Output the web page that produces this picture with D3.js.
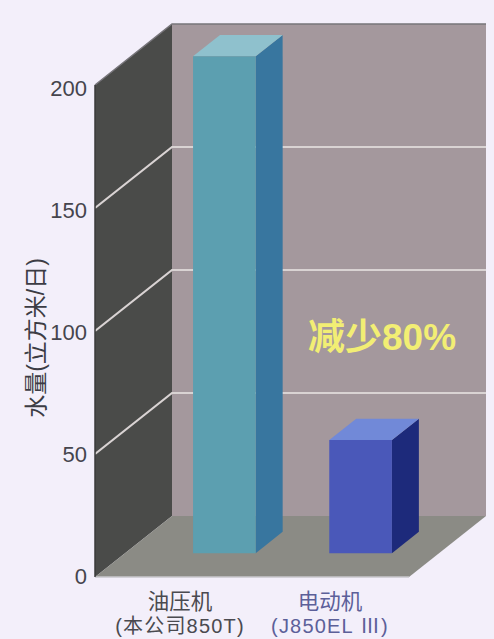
<!DOCTYPE html>
<html>
<head>
<meta charset="utf-8">
<script src="https://cdn.jsdelivr.net/npm/d3@7"></script>
<style>
html,body{margin:0;padding:0;background:#f3effa;}
svg{display:block;}
text{font-family:"Liberation Sans","Noto Sans CJK SC",sans-serif;}
</style>
</head>
<body>
<svg id="chart" width="494" height="639"></svg>
<script>
// Water consumption per day for the two machine types
const categories = ["油压机", "电动机"];
const subLabels = ["(本公司850T)", "(J850EL Ⅲ)"];
const values = [202, 46];
const yTicks = [0, 50, 100, 150, 200];
const frontColors = ["#5c9fb0", "#4a58b9"];
const sideColors = ["#38769f", "#1d2a7b"];
const topColors = ["#8fc1cd", "#7189d8"];
const labelColors = ["#4a4a50", "#5c6099"];

const svg = d3.select("#chart");

// Scales for the front plane of the 3D box, plus depth offsets
const y = d3.scaleLinear().domain([0, 200]).range([577, 85]);
const yLabel = d3.scaleLinear().domain([0, 200]).range([578, 90]);
const x = d3.scaleLinear().domain([0, 1]).range([95, 409]);
const depthX = d3.scaleLinear().domain([0, 1]).range([0, 77]);
const depthY = d3.scaleLinear().domain([0, 1]).range([0, -61]);
const barX = d3.scaleBand().domain(categories).range([0.2166, 0.85]).paddingInner(0.54).paddingOuter(0);

const pt = (u, v, d) => [x(u) + depthX(d), y(v) + depthY(d)];
const line = d3.line();
const poly = pts => line(pts) + "Z";

// Box walls and floor
svg.append("path").attr("fill", "#a4989d")
  .attr("d", poly([pt(0, 200, 1), pt(1, 200, 1), pt(1, 0, 1), pt(0, 0, 1)]));
svg.append("path").attr("fill", "#4a4b49")
  .attr("d", poly([pt(0, 200, 0), pt(0, 200, 1), pt(0, 0, 1), pt(0, 0, 0)]));
svg.append("path").attr("fill", "#8b8b85")
  .attr("d", poly([pt(0, 0, 0), pt(0, 0, 1), pt(1, 0, 1), pt(1, 0, 0)]));

// Gridlines run up the left wall and across the back wall
const gridTicks = yTicks.filter(t => t > 0 && t < 200);
svg.append("g").selectAll("path").data(gridTicks).join("path")
  .attr("fill", "none").attr("stroke", "#d9d3d3").attr("stroke-width", 2.2)
  .attr("d", t => line([pt(0, t, 0), pt(0, t, 1), pt(1, t, 1)]));

// Outer edges of the box
svg.append("path").attr("fill", "none").attr("stroke", "#c9c7cc").attr("stroke-width", 1.5)
  .attr("d", line([pt(0, 0, 0), pt(1, 0, 0)]));
svg.append("path").attr("fill", "none").attr("stroke", "#77757a").attr("stroke-width", 1.5)
  .attr("d", line([pt(0, 200, 0), pt(0, 200, 1), pt(1, 200, 1)]));
svg.append("path").attr("fill", "none").attr("stroke", "#3a3a3a").attr("stroke-width", 1.5)
  .attr("d", line([pt(0, 200, 0), pt(0, 0, 0)]));

// Bars stand on the floor, between these two depths
const dFront = 0.39, dBack = 0.74;
const bars = svg.append("g").selectAll("g").data(categories).join("g");
const u0 = c => barX(c);
const u1 = c => u0(c) + barX.bandwidth();
const val = c => values[categories.indexOf(c)];

bars.append("path").attr("fill", (c, i) => sideColors[i])
  .attr("d", c => poly([pt(u1(c), val(c), dFront), pt(u1(c), val(c), dBack), pt(u1(c), 0, dBack), pt(u1(c), 0, dFront)]));
bars.append("path").attr("fill", (c, i) => topColors[i])
  .attr("d", c => poly([pt(u0(c), val(c), dFront), pt(u0(c), val(c), dBack), pt(u1(c), val(c), dBack), pt(u1(c), val(c), dFront)]));
bars.append("path").attr("fill", (c, i) => frontColors[i])
  .attr("d", c => poly([pt(u0(c), val(c), dFront), pt(u1(c), val(c), dFront), pt(u1(c), 0, dFront), pt(u0(c), 0, dFront)]));

// Value axis labels
svg.append("g").selectAll("text").data(yTicks).join("text")
  .attr("x", 87).attr("y", d => yLabel(d))
  .attr("text-anchor", "end").attr("dominant-baseline", "middle")
  .attr("font-size", 22).attr("fill", "#45454d")
  .text(d => d);

svg.append("text")
  .attr("transform", "translate(44,338) rotate(-90)")
  .attr("text-anchor", "middle").attr("font-size", 23).attr("fill", "#3c3c44")
  .text("水量(立方米/日)");

// Category labels under the floor
const labelX = [180, 330];
svg.append("g").selectAll("text").data(categories).join("text")
  .attr("x", (d, i) => labelX[i]).attr("y", 609)
  .attr("text-anchor", "middle").attr("font-size", 21.5).attr("fill", (d, i) => labelColors[i])
  .text(d => d);
svg.append("g").selectAll("text").data(subLabels).join("text")
  .attr("x", (d, i) => labelX[i]).attr("y", 633)
  .attr("text-anchor", "middle").attr("font-size", 20).attr("letter-spacing", 1.2).attr("fill", (d, i) => labelColors[i])
  .text(d => d);

// Reduction callout
svg.append("text")
  .attr("x", 308).attr("y", 350)
  .attr("font-size", 37).attr("font-weight", "bold").attr("fill", "#f2ee74")
  .text("减少80%");
</script>
</body>
</html>
